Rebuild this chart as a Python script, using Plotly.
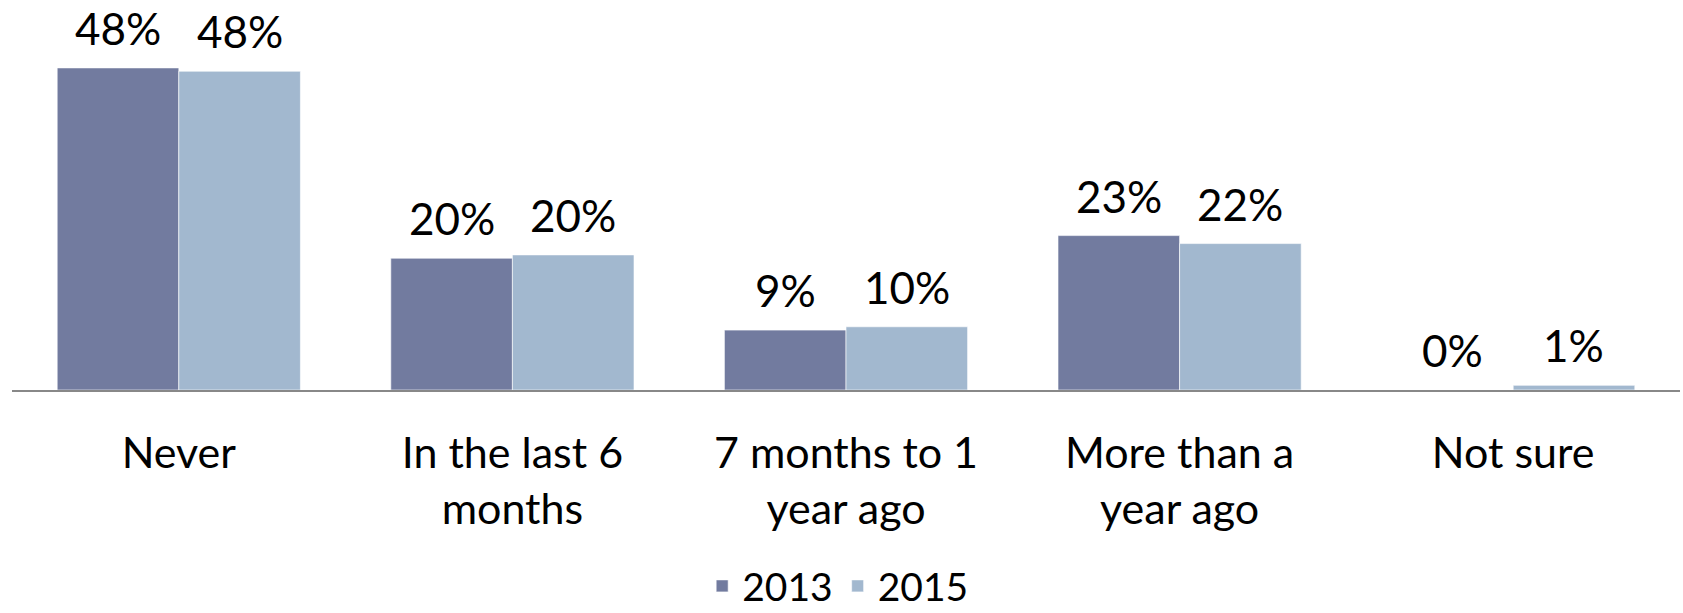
import plotly.graph_objects as go

categories = ["Never", "In the last 6<br>months", "7 months to 1<br>year ago", "More than a<br>year ago", "Not sure"]
series_names = ["2013", "2015"]
values_2013 = [48.4, 19.8, 9.0, 23.2, 0.0]
values_2015 = [47.9, 20.3, 9.5, 22.0, 0.7]
labels_2013 = ["48%", "20%", "9%", "23%", "0%"]
labels_2015 = ["48%", "20%", "10%", "22%", "1%"]
colors = ["#727B9F", "#A2B8CF"]

FONT = "Lato"
W, H = 1683, 613
ML, MR, MT, MB = 12, 3, 10, 223
BARGAP = 0.271

fig = go.Figure()
for name, vals, col in zip(series_names, [values_2013, values_2015], colors):
    fig.add_trace(go.Bar(
        x=categories, y=vals, name=name,
        marker=dict(color=col, line=dict(color="rgba(255,255,255,0.6)", width=1)),
    ))

# value labels above each bar, positioned via the data scales
plot_w = W - ML - MR
bar_w = plot_w / len(categories) * (1 - BARGAP) / len(series_names)
for s, (vals, labs) in enumerate(zip([values_2013, values_2015], [labels_2013, labels_2015])):
    xs = (s - (len(series_names) - 1) / 2) * bar_w
    for cat, v, lab in zip(categories, vals, labs):
        fig.add_annotation(x=cat, y=v, text=lab, showarrow=False,
                           xshift=xs, yshift=40, yanchor="middle", xanchor="center",
                           font=dict(family=FONT, size=44, color="#000000"))

fig.update_layout(
    width=W, height=H,
    margin=dict(l=ML, r=MR, t=MT, b=MB, autoexpand=False),
    paper_bgcolor="white", plot_bgcolor="white",
    barmode="group", bargap=BARGAP, bargroupgap=0,
    font=dict(family=FONT, color="#000000"),
    showlegend=True,
    legend=dict(orientation="h", x=0.495, xanchor="center", yref="container", y=0.044, yanchor="middle",
                font=dict(family=FONT, size=39, color="#000000"), itemwidth=30,
                traceorder="normal"),
    xaxis=dict(showline=True, linecolor="#888888", linewidth=2, ticks="",
               tickfont=dict(family=FONT, size=43, color="#000000"), ticklabelstandoff=24,
               showgrid=False, zeroline=False, fixedrange=True, automargin=False),
    yaxis=dict(range=[0, 57.1], visible=False, showgrid=False, zeroline=False, automargin=False),
)

fig.write_html("out.html", config={"displayModeBar": False},
               post_script="document.body.style.margin='0';document.body.style.overflow='hidden';")
